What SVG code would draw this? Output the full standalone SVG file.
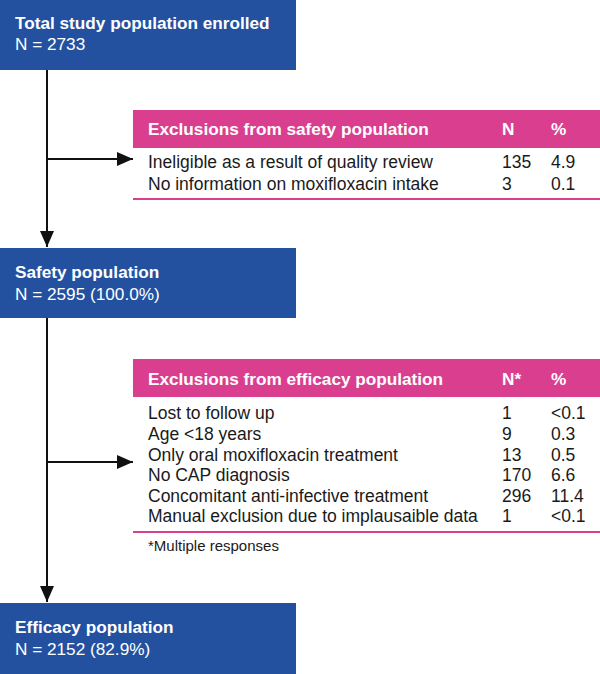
<svg xmlns="http://www.w3.org/2000/svg" width="600" height="674" viewBox="0 0 600 674">
<style>
.box{fill:#2351a0}
.bt{font-family:"Liberation Sans",Arial,sans-serif;font-size:17.2px;fill:#fff}
.b{font-weight:bold}
.hdr{fill:#d93f8e}
.ht{font-family:"Liberation Sans",Arial,sans-serif;font-size:17.2px;font-weight:bold;fill:#fff}
.tt{font-family:"Liberation Sans",Arial,sans-serif;font-size:17.5px;fill:#1a1a1a}
.note{font-family:"Liberation Sans",Arial,sans-serif;font-size:15px;fill:#1a1a1a}
.rule{stroke:#d93f8e;stroke-width:2}
.conn{stroke:#111;stroke-width:2;fill:none}
</style>
<defs>
<marker id="ah" markerWidth="16" markerHeight="14" refX="16" refY="7" orient="auto" markerUnits="userSpaceOnUse">
<path d="M0,0 L16,7 L0,14 Z" fill="#111"/>
</marker>
</defs>
<g id="connectors">
<path class="conn" d="M47,70 V247" marker-end="url(#ah)"/>
<path class="conn" d="M47,159 H133" marker-end="url(#ah)"/>
<path class="conn" d="M47,318 V602" marker-end="url(#ah)"/>
<path class="conn" d="M47,462 H133" marker-end="url(#ah)"/>
</g>
<g id="total">
<rect class="box" x="0" y="0" width="296" height="70"/>
<text class="bt b" x="15" y="29">Total study population enrolled</text>
<text class="bt" x="15" y="50">N = 2733</text>
</g>
<g id="safety-exclusions">
<rect class="hdr" x="133" y="110" width="467" height="38"/>
<text class="ht" x="148" y="135">Exclusions from safety population</text>
<text class="ht" x="502" y="135">N</text>
<text class="ht" x="551" y="135">%</text>
<text class="tt" x="148" y="168">Ineligible as a result of quality review</text>
<text class="tt" x="502" y="168">135</text>
<text class="tt" x="551" y="168">4.9</text>
<text class="tt" x="148" y="190">No information on moxifloxacin intake</text>
<text class="tt" x="502" y="190">3</text>
<text class="tt" x="551" y="190">0.1</text>
<line class="rule" x1="133" y1="199" x2="600" y2="199"/>
</g>
<g id="safety">
<rect class="box" x="0" y="248" width="296" height="70"/>
<text class="bt b" x="15" y="278">Safety population</text>
<text class="bt" x="15" y="300">N = 2595 (100.0%)</text>
</g>
<g id="efficacy-exclusions">
<rect class="hdr" x="133" y="359" width="467" height="38"/>
<text class="ht" x="148" y="385">Exclusions from efficacy population</text>
<text class="ht" x="502" y="385">N*</text>
<text class="ht" x="551" y="385">%</text>
<text class="tt" x="148" y="419">Lost to follow up</text>
<text class="tt" x="502" y="419">1</text>
<text class="tt" x="551" y="419">&lt;0.1</text>
<text class="tt" x="148" y="440">Age &lt;18 years</text>
<text class="tt" x="502" y="440">9</text>
<text class="tt" x="551" y="440">0.3</text>
<text class="tt" x="148" y="461">Only oral moxifloxacin treatment</text>
<text class="tt" x="502" y="461">13</text>
<text class="tt" x="551" y="461">0.5</text>
<text class="tt" x="148" y="481">No CAP diagnosis</text>
<text class="tt" x="502" y="481">170</text>
<text class="tt" x="551" y="481">6.6</text>
<text class="tt" x="148" y="502">Concomitant anti-infective treatment</text>
<text class="tt" x="502" y="502">296</text>
<text class="tt" x="551" y="502">11.4</text>
<text class="tt" x="148" y="522">Manual exclusion due to implausaible data</text>
<text class="tt" x="502" y="522">1</text>
<text class="tt" x="551" y="522">&lt;0.1</text>
<line class="rule" x1="133" y1="532" x2="600" y2="532"/>
<text class="note" x="148" y="551">*Multiple responses</text>
</g>
<g id="efficacy">
<rect class="box" x="0" y="603" width="296" height="71"/>
<text class="bt b" x="15" y="633">Efficacy population</text>
<text class="bt" x="15" y="655">N = 2152 (82.9%)</text>
</g>
</svg>
